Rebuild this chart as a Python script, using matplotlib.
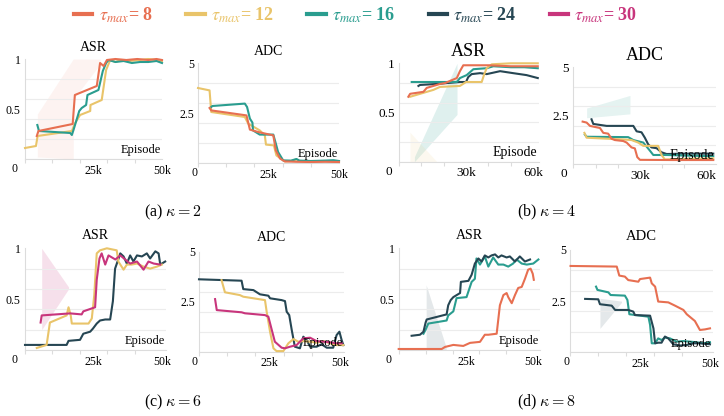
import numpy as np
import matplotlib
matplotlib.use("Agg")
import matplotlib.pyplot as plt
from matplotlib.font_manager import FontProperties
from matplotlib.lines import Line2D

plt.rcParams["font.family"] = "serif"
plt.rcParams["font.serif"] = ["Liberation Serif", "DejaVu Serif"]

# ---------------- colours / labels ----------------
TAUS = [8, 12, 16, 24, 30]
COLORS = {8: "#E76F51", 12: "#E9C46A", 16: "#2A9D8F", 24: "#264653", 30: "#C8357C"}

# ---------------- (a) kappa = 2 ----------------
A_ASR_T8_X = [4.3, 4.9, 17.4, 18.2, 26.2, 27.4, 28.7, 29.9, 33, 37, 41, 45, 48, 50]
A_ASR_T8_Y = [0.23, 0.28, 0.35, 0.64, 0.73, 0.96, 0.93, 0.99, 1.0, 0.99, 1.0, 0.99, 1.0, 0.99]
A_ASR_T12_X = [0, 4.0, 4.6, 17.1, 18.3, 20.1, 23.8, 23.9, 28.0, 29.6, 31.1, 33, 35, 38, 42, 45, 48, 50]
A_ASR_T12_Y = [0.11, 0.13, 0.23, 0.28, 0.36, 0.44, 0.48, 0.54, 0.59, 0.89, 0.99, 0.97, 0.99, 0.98, 0.99, 1.0, 0.99, 0.98]
A_ASR_T16_X = [4.5, 5.1, 16.5, 17.1, 17.7, 19.8, 20.7, 22.3, 22.8, 26.8, 28.4, 29.6, 30.5, 33, 36, 39, 42, 45, 48, 50]
A_ASR_T16_Y = [0.34, 0.28, 0.26, 0.24, 0.29, 0.48, 0.51, 0.54, 0.64, 0.69, 0.88, 0.96, 0.99, 0.97, 0.98, 0.96, 0.97, 0.97, 0.98, 0.96]
A_ASR_BAND_X = [4.5, 17.6, 17.7, 27.5]
A_ASR_BAND_LO = [0.02, 0.0, 0.6, 0.95]
A_ASR_BAND_HI = [0.45, 1.0, 1.0, 1.0]

A_ADC_T8_X = [4.1, 4.7, 17.2, 18.4, 21.3, 26.7, 27.6, 29.1, 30.8, 35, 40, 45, 50]
A_ADC_T8_Y = [2.75, 2.63, 2.38, 1.67, 1.55, 1.38, 0.63, 0.22, 0.08, 0.06, 0.05, 0.06, 0.05]
A_ADC_T12_X = [0, 4.1, 4.7, 16.6, 17.8, 21.9, 23.7, 24.1, 26.9, 27.8, 30.8, 33, 34.9, 36, 40, 45, 50]
A_ADC_T12_Y = [3.75, 3.63, 2.55, 2.3, 1.97, 1.63, 1.38, 0.92, 0.88, 0.38, 0.08, 0.1, 0.18, 0.1, 0.08, 0.1, 0.08]
A_ADC_T16_X = [4.7, 5.1, 16.6, 17.4, 18.4, 19.3, 19.5, 21.9, 26.7, 27.6, 28.4, 30.2, 33, 34.9, 36, 40, 45, 48, 50]
A_ADC_T16_Y = [2.8, 2.85, 2.97, 2.8, 2.22, 2.02, 1.63, 1.42, 1.42, 0.97, 0.55, 0.13, 0.12, 0.2, 0.12, 0.1, 0.12, 0.14, 0.1]

# ---------------- (b) kappa = 4 ----------------
B_ASR_T8_X = [4.3, 5.1, 11, 12.5, 18.4, 20.7, 25.9, 27.3, 28.8, 30, 40, 50, 62]
B_ASR_T8_Y = [0.66, 0.69, 0.71, 0.75, 0.79, 0.80, 0.85, 0.92, 0.98, 0.98, 0.98, 0.97, 0.97]
B_ASR_T12_X = [5.1, 15.5, 18.4, 27.3, 30, 37, 38, 39.2, 41.5, 50, 62]
B_ASR_T12_Y = [0.66, 0.73, 0.76, 0.77, 0.81, 0.81, 0.88, 0.95, 0.99, 1.0, 1.0]
B_ASR_T16_X = [5.8, 25.9, 27.3, 30.3, 31.8, 33.3, 39.2, 42.2, 50, 56, 62]
B_ASR_T16_Y = [0.81, 0.81, 0.85, 0.88, 0.91, 0.94, 0.95, 0.97, 0.96, 0.96, 0.95]
B_ASR_T24_X = [8.8, 9.5, 16.9, 27.3, 30, 31, 32.5, 36.3, 39.2, 45.2, 51, 57, 62]
B_ASR_T24_Y = [0.77, 0.78, 0.79, 0.81, 0.81, 0.86, 0.89, 0.90, 0.89, 0.92, 0.90, 0.88, 0.85]
B_ASR_BAND16_X = [7, 26]
B_ASR_BAND16_LO = [0.0, 0.48]
B_ASR_BAND16_HI = [0.05, 1.0]
B_ASR_BAND8_X = [5, 17]
B_ASR_BAND8_LO = [0.0, 0.0]
B_ASR_BAND8_HI = [0.3, 0.0]

B_ADC_T8_X = [4.2, 6, 7.5, 12, 13.5, 15.7, 17.2, 18.7, 22.5, 24, 26.2, 27.7, 28.8, 30, 45, 63]
B_ADC_T8_Y = [2.2, 2.15, 1.98, 1.87, 1.62, 1.58, 1.32, 1.25, 1.2, 1.12, 0.87, 0.82, 0.37, 0.23, 0.22, 0.22]
B_ADC_T12_X = [5, 6, 22.5, 26.2, 29.2, 31.5, 38.2, 39.7, 41.2, 50, 63]
B_ADC_T12_Y = [1.62, 1.37, 1.28, 1.25, 1.12, 0.95, 0.95, 0.48, 0.25, 0.28, 0.3]
B_ADC_T16_X = [5.2, 6, 24.7, 27, 31.5, 34.5, 36, 42, 50, 63]
B_ADC_T16_Y = [1.53, 1.42, 1.4, 1.25, 1.12, 0.7, 0.48, 0.48, 0.45, 0.42]
B_ADC_T24_X = [8.2, 9, 15, 27, 28.5, 30.7, 32.2, 33.7, 35.2, 37.5, 39.7, 42, 50, 63]
B_ADC_T24_Y = [2.32, 2.08, 1.98, 1.98, 1.7, 1.65, 1.37, 1.03, 0.87, 0.83, 0.62, 0.53, 0.55, 0.55]
B_ADC_BAND16_X = [6, 25.5]
B_ADC_BAND16_LO = [2.4, 2.6]
B_ADC_BAND16_HI = [2.9, 3.55]

# ---------------- (c) kappa = 6 ----------------
C_ASR_T12_X = [4.3, 7.9, 9.1, 15.2, 15.9, 16.7, 17.1, 23.2, 24.4, 25.3, 26.2, 27.4, 29.9, 33.5, 34.1, 36, 37.2, 39, 40.9, 43.3, 45.7, 48.2, 50]
C_ASR_T12_Y = [0.02, 0.05, 0.27, 0.34, 0.42, 0.34, 0.26, 0.26, 0.31, 0.54, 0.95, 0.98, 1.0, 0.98, 0.87, 0.79, 0.84, 0.84, 0.85, 0.82, 0.80, 0.82, 0.84]
C_ASR_T24_X = [0, 15.2, 15.9, 20.1, 21.3, 23.8, 24.8, 26.2, 27.4, 29.3, 31.1, 32.1, 32.9, 33.8, 34.8, 36, 37.2, 38.4, 39.6, 40.9, 42.7, 44.5, 45.7, 47.6, 48.8, 49.4, 51.2]
C_ASR_T24_Y = [0.05, 0.05, 0.09, 0.10, 0.16, 0.18, 0.21, 0.26, 0.29, 0.30, 0.30, 0.48, 0.80, 0.87, 0.95, 0.92, 0.85, 0.93, 0.87, 0.93, 0.92, 0.95, 0.90, 0.97, 0.95, 0.84, 0.87]
C_ASR_T30_X = [5.7, 6.1, 16.5, 20.7, 21.3, 25.6, 26.2, 27.2, 28, 29.3, 30.5, 33, 34.8, 36.6, 38.4, 40.9, 43.3, 45.1, 47, 49.4]
C_ASR_T30_Y = [0.27, 0.34, 0.36, 0.35, 0.38, 0.42, 0.69, 0.90, 0.95, 0.84, 0.93, 0.89, 0.93, 0.89, 0.85, 0.87, 0.79, 0.87, 0.85, 0.84]
C_ASR_BAND30_X = [6.1, 15.9]
C_ASR_BAND30_LO = [0.2, 0.6]
C_ASR_BAND30_HI = [1.0, 0.62]

C_ADC_T12_X = [8, 9.2, 14.5, 15.7, 23.4, 24, 25.2, 26.4, 27.5, 29.9, 31.7, 33.5, 35.2, 37, 39.4, 41.7, 44.1, 46.5, 48.8, 51.2]
C_ADC_T12_Y = [3.58, 2.97, 2.83, 2.75, 2.58, 2.0, 1.0, 0.17, 0.03, 0.03, 0.42, 0.63, 0.5, 0.53, 0.5, 0.45, 0.53, 0.42, 0.33, 0.33]
C_ADC_T24_X = [0, 15.1, 15.7, 19.3, 21.6, 24.6, 25.2, 29.3, 30.5, 31.1, 32, 32.9, 34, 35.8, 37, 38.2, 39.4, 41.7, 43.5, 45.3, 47.6, 48.8, 49.8, 50.6, 51.2]
C_ADC_T24_Y = [3.62, 3.55, 3.13, 3.08, 2.87, 2.8, 2.67, 2.58, 2.53, 2.0, 1.83, 1.08, 0.25, 0.17, 0.75, 0.58, 0.25, 0.25, 0.37, 0.2, 0.2, 0.83, 1.0, 0.58, 0.33]
C_ADC_T30_X = [5.7, 6.3, 15.1, 16.3, 23.4, 24.6, 26.9, 29.3, 30.5, 32.3, 34.6, 37, 39.4, 41.7, 44.1, 46.5, 48.8, 50.6]
C_ADC_T30_Y = [2.63, 2.08, 1.97, 1.92, 1.83, 1.75, 0.5, 0.2, 0.17, 0.25, 0.33, 0.67, 0.7, 0.53, 0.5, 0.47, 0.42, 0.42]

# ---------------- (d) kappa = 8 ----------------
D_ASR_T8_X = [0, 16, 17.2, 20.3, 24, 26.5, 30.2, 32, 33.3, 36.4, 37.6, 38.9, 40.1, 40.7, 42, 43.2, 44.4, 45.7, 46.9, 48.1, 49, 49.8, 50.2]
D_ASR_T8_Y = [0.01, 0.01, 0.03, 0.05, 0.04, 0.07, 0.08, 0.15, 0.15, 0.16, 0.44, 0.54, 0.56, 0.52, 0.46, 0.54, 0.61, 0.62, 0.70, 0.79, 0.80, 0.75, 0.69]
D_ASR_T16_X = [9.2, 10, 11, 17.8, 18.4, 20.3, 21.5, 25.2, 27.1, 28.3, 28.9, 30.2, 32, 33.3, 35.1, 37, 38.9, 40.7, 42.5, 43.8, 45.7, 47.6, 50, 51.9]
D_ASR_T16_Y = [0.16, 0.20, 0.26, 0.29, 0.34, 0.38, 0.51, 0.52, 0.67, 0.70, 0.90, 0.84, 0.92, 0.82, 0.91, 0.84, 0.84, 0.82, 0.85, 0.89, 0.85, 0.84, 0.85, 0.89]
D_ASR_T24_X = [4.8, 7.9, 9.2, 10, 10.4, 17.8, 18.4, 19.3, 20.3, 22.8, 23.1, 25.9, 27.1, 28.3, 29.6, 30.8, 32, 33.3, 34.5, 35.8, 37, 38.2, 40.1, 41.3, 43.2, 45, 46.9, 48.8]
D_ASR_T24_Y = [0.14, 0.15, 0.18, 0.27, 0.30, 0.35, 0.44, 0.49, 0.52, 0.56, 0.67, 0.68, 0.74, 0.85, 0.90, 0.87, 0.93, 0.91, 0.93, 0.94, 0.91, 0.93, 0.91, 0.92, 0.87, 0.92, 0.87, 0.89]
D_ASR_BAND24_X = [10.2, 17.6]
D_ASR_BAND24_LO = [0.0, 0.0]
D_ASR_BAND24_HI = [0.64, 0.03]

D_ADC_T8_X = [0.2, 16.7, 17.6, 19.6, 20.8, 24.4, 25, 28.6, 29.2, 30.4, 31.5, 35.1, 37.5, 40.5, 41.7, 44.6, 46.4, 48.2, 50]
D_ADC_T8_Y = [4.22, 4.19, 3.75, 3.70, 3.53, 3.45, 3.58, 3.65, 3.37, 3.21, 2.48, 2.44, 2.28, 2.07, 1.86, 1.53, 1.09, 1.12, 1.17]
D_ADC_T16_X = [9.3, 9.8, 13.7, 14.5, 19.6, 20.5, 21.2, 28, 28.6, 29.2, 30.4, 31.5, 32.7, 33.9, 35.7, 36.9, 38.1, 40.5, 42.9, 45.2, 47.6, 50]
D_ADC_T16_Y = [3.21, 3.05, 2.93, 2.80, 2.77, 2.56, 1.86, 1.74, 1.34, 0.44, 0.44, 0.68, 0.60, 0.72, 0.68, 0.60, 0.52, 0.55, 0.52, 0.49, 0.44, 0.49]
D_ADC_T24_X = [5.4, 10.1, 10.7, 14.9, 16.1, 20.8, 22.6, 23.2, 28.6, 29.8, 30.4, 31.5, 32.7, 33.9, 35.1, 36.9, 39.3, 41.7, 44, 46.4, 50]
D_ADC_T24_Y = [2.61, 2.59, 2.35, 2.28, 2.07, 2.07, 1.99, 1.82, 1.79, 1.17, 0.44, 0.47, 0.47, 0.77, 0.68, 0.39, 0.33, 0.36, 0.44, 0.44, 0.39]
D_ADC_BAND24_X = [10.7, 18.4]
D_ADC_BAND24_LO = [1.17, 2.44]
D_ADC_BAND24_HI = [2.64, 2.5]

CAPTIONS = [r"(a) $\kappa = 2$", r"(b) $\kappa = 4$", r"(c) $\kappa = 6$", r"(d) $\kappa = 8$"]

# ---------------- figure ----------------
W, H = 724, 416
fig = plt.figure(figsize=(W / 100, H / 100), dpi=100)
SERIF = "Liberation Serif"
GRID = "#ececec"
SPINE = "#dcdcdc"


def px_axes(left, top, right, bottom):
    return fig.add_axes([left / W, 1 - bottom / H, (right - left) / W, (bottom - top) / H])


def style(ax, kind, xmax, xt, xtl, zero_dx, fs_tick, fs_title, title_pad, ylim, ep_fs):
    ax.set_xlim(0, xmax)
    ax.set_ylim(*ylim)
    for s in ["top", "right"]:
        ax.spines[s].set_visible(False)
    for s in ["left", "bottom"]:
        ax.spines[s].set_color(SPINE)
        ax.spines[s].set_linewidth(0.8)
    if kind == "ASR":
        ax.set_yticks([0.5, 1.0])
        ax.set_yticklabels(["0.5", "1"])
        ax.set_yticks(np.arange(0, 1.01, 0.2), minor=True)
    else:
        ax.set_yticks([2.5, 5.0])
        ax.set_yticklabels(["2.5", "5"])
        ax.set_yticks(np.arange(0, 5.01, 1.0), minor=True)
    ax.grid(False)
    ax.grid(True, which="minor", axis="y", color=GRID, lw=0.8)
    ax.set_xticks(xt)
    ax.set_xticklabels(xtl)
    ax.set_xticks(np.arange(0, xmax + 0.01, 10), minor=True)
    ax.tick_params(axis="y", which="both", length=0, pad=3, labelsize=fs_tick)
    ax.tick_params(axis="x", which="major", length=0, pad=4, labelsize=fs_tick)
    ax.tick_params(axis="x", which="minor", length=3, color=SPINE, width=0.8)
    for lab in ax.get_xticklabels() + ax.get_yticklabels():
        lab.set_fontfamily(SERIF)
    ax.annotate("0", xy=(0, 0), xycoords=("data", "axes fraction"),
                xytext=(-zero_dx, -4), textcoords="offset pixels",
                ha="center", va="top", fontsize=fs_tick, fontfamily=SERIF)
    ax.set_title(kind, fontsize=fs_title, fontfamily=SERIF, pad=title_pad)
    ax.text(0.99, 0.025, "Episode", transform=ax.transAxes, ha="right", va="bottom",
            fontsize=ep_fs, fontfamily=SERIF, zorder=10)
    ax.set_facecolor("none")


def line(ax, x, y, tau):
    ax.plot(x, y, color=COLORS[tau], lw=1.5, clip_on=False, zorder=3,
            solid_joinstyle="round")


def band(ax, x, lo, hi, tau, alpha):
    ax.fill_between(x, lo, hi, color=COLORS[tau], alpha=alpha, lw=0, zorder=1)


# (a) ASR
ax = px_axes(25, 59, 162, 159)
band(ax, A_ASR_BAND_X, A_ASR_BAND_LO, A_ASR_BAND_HI, 8, 0.08)
line(ax, A_ASR_T12_X, A_ASR_T12_Y, 12)
line(ax, A_ASR_T16_X, A_ASR_T16_Y, 16)
line(ax, A_ASR_T8_X, A_ASR_T8_Y, 8)
style(ax, "ASR", 50, [25, 50], ["25k", "50k"], 11, 8.5, 10, 6, (0, 1), 9)

# (a) ADC
ax = px_axes(198, 63, 339, 163)
line(ax, A_ADC_T12_X, A_ADC_T12_Y, 12)
line(ax, A_ADC_T16_X, A_ADC_T16_Y, 16)
line(ax, A_ADC_T8_X, A_ADC_T8_Y, 8)
style(ax, "ADC", 50, [25, 50], ["25k", "50k"], 4, 8.5, 10, 6, (0, 5), 9)

# (b) ASR
ax = px_axes(398.7, 63.3, 538.9, 161.7)
band(ax, B_ASR_BAND16_X, B_ASR_BAND16_LO, B_ASR_BAND16_HI, 16, 0.15)
band(ax, B_ASR_BAND8_X, B_ASR_BAND8_LO, B_ASR_BAND8_HI, 12, 0.10)
line(ax, B_ASR_T24_X, B_ASR_T24_Y, 24)
line(ax, B_ASR_T16_X, B_ASR_T16_Y, 16)
line(ax, B_ASR_T12_X, B_ASR_T12_Y, 12)
line(ax, B_ASR_T8_X, B_ASR_T8_Y, 8)
style(ax, "ASR", 62.5, [30, 60], ["30k", "60k"], 10, 9.5, 13, 5, (0, 1), 10)

# (b) ADC
ax = px_axes(573.3, 67.3, 715.5, 164.3)
band(ax, B_ADC_BAND16_X, B_ADC_BAND16_LO, B_ADC_BAND16_HI, 16, 0.12)
line(ax, B_ADC_T24_X, B_ADC_T24_Y, 24)
line(ax, B_ADC_T16_X, B_ADC_T16_Y, 16)
line(ax, B_ADC_T12_X, B_ADC_T12_Y, 12)
line(ax, B_ADC_T8_X, B_ADC_T8_Y, 8)
style(ax, "ADC", 64, [30, 60], ["30k", "60k"], 9, 9.5, 13, 5, (0.15, 5), 10)

# (c) ASR
ax = px_axes(25, 248.3, 166, 350)
band(ax, C_ASR_BAND30_X, C_ASR_BAND30_LO, C_ASR_BAND30_HI, 30, 0.15)
line(ax, C_ASR_T24_X, C_ASR_T24_Y, 24)
line(ax, C_ASR_T12_X, C_ASR_T12_Y, 12)
line(ax, C_ASR_T30_X, C_ASR_T30_Y, 30)
style(ax, "ASR", 51.5, [25, 50], ["25k", "50k"], 11, 8.5, 10, 7, (0, 1), 9)

# (c) ADC
ax = px_axes(199, 251.7, 344.2, 351.7)
line(ax, C_ADC_T24_X, C_ADC_T24_Y, 24)
line(ax, C_ADC_T12_X, C_ADC_T12_Y, 12)
line(ax, C_ADC_T30_X, C_ADC_T30_Y, 30)
style(ax, "ADC", 51.5, [25, 50], ["25k", "50k"], 5, 8.5, 10, 8, (0, 5), 9)

# (d) ASR
ax = px_axes(398.7, 248.3, 540, 350)
band(ax, D_ASR_BAND24_X, D_ASR_BAND24_LO, D_ASR_BAND24_HI, 24, 0.12)
line(ax, D_ASR_T8_X, D_ASR_T8_Y, 8)
line(ax, D_ASR_T16_X, D_ASR_T16_Y, 16)
line(ax, D_ASR_T24_X, D_ASR_T24_Y, 24)
style(ax, "ASR", 52.5, [25, 50], ["25k", "50k"], 10, 8.5, 10, 7, (0, 1), 9)

# (d) ADC
ax = px_axes(570, 250, 712.8, 352.3)
band(ax, D_ADC_BAND24_X, D_ADC_BAND24_LO, D_ADC_BAND24_HI, 24, 0.12)
line(ax, D_ADC_T8_X, D_ADC_T8_Y, 8)
line(ax, D_ADC_T16_X, D_ADC_T16_Y, 16)
line(ax, D_ADC_T24_X, D_ADC_T24_Y, 24)
style(ax, "ADC", 51, [25, 50], ["25k", "50k"], 3, 8.5, 10.5, 7, (0, 5), 9)

# captions
for cap, (cx, cy) in zip(CAPTIONS, [(173, 212), (547, 212), (173, 402), (547, 402)]):
    fig.text(cx / W, 1 - cy / H, cap, ha="center", va="center", fontsize=11.5,
             fontfamily=SERIF, math_fontfamily="cm")

# legend
handles = [Line2D([], [], color=COLORS[t], lw=3) for t in TAUS]
labels = [r"$\tau_{max}$= %d" % t for t in TAUS]
leg = fig.legend(handles, labels, loc="center", bbox_to_anchor=(356 / W, 1 - 15 / H),
                 ncol=5, frameon=False, handlelength=1.0, handletextpad=0.35,
                 columnspacing=1.85,
                 prop=FontProperties(family=SERIF, weight="bold", size=13, math_fontfamily="stix"))
for txt, t in zip(leg.get_texts(), TAUS):
    txt.set_color(COLORS[t])

fig.savefig("out.png", dpi=100)
